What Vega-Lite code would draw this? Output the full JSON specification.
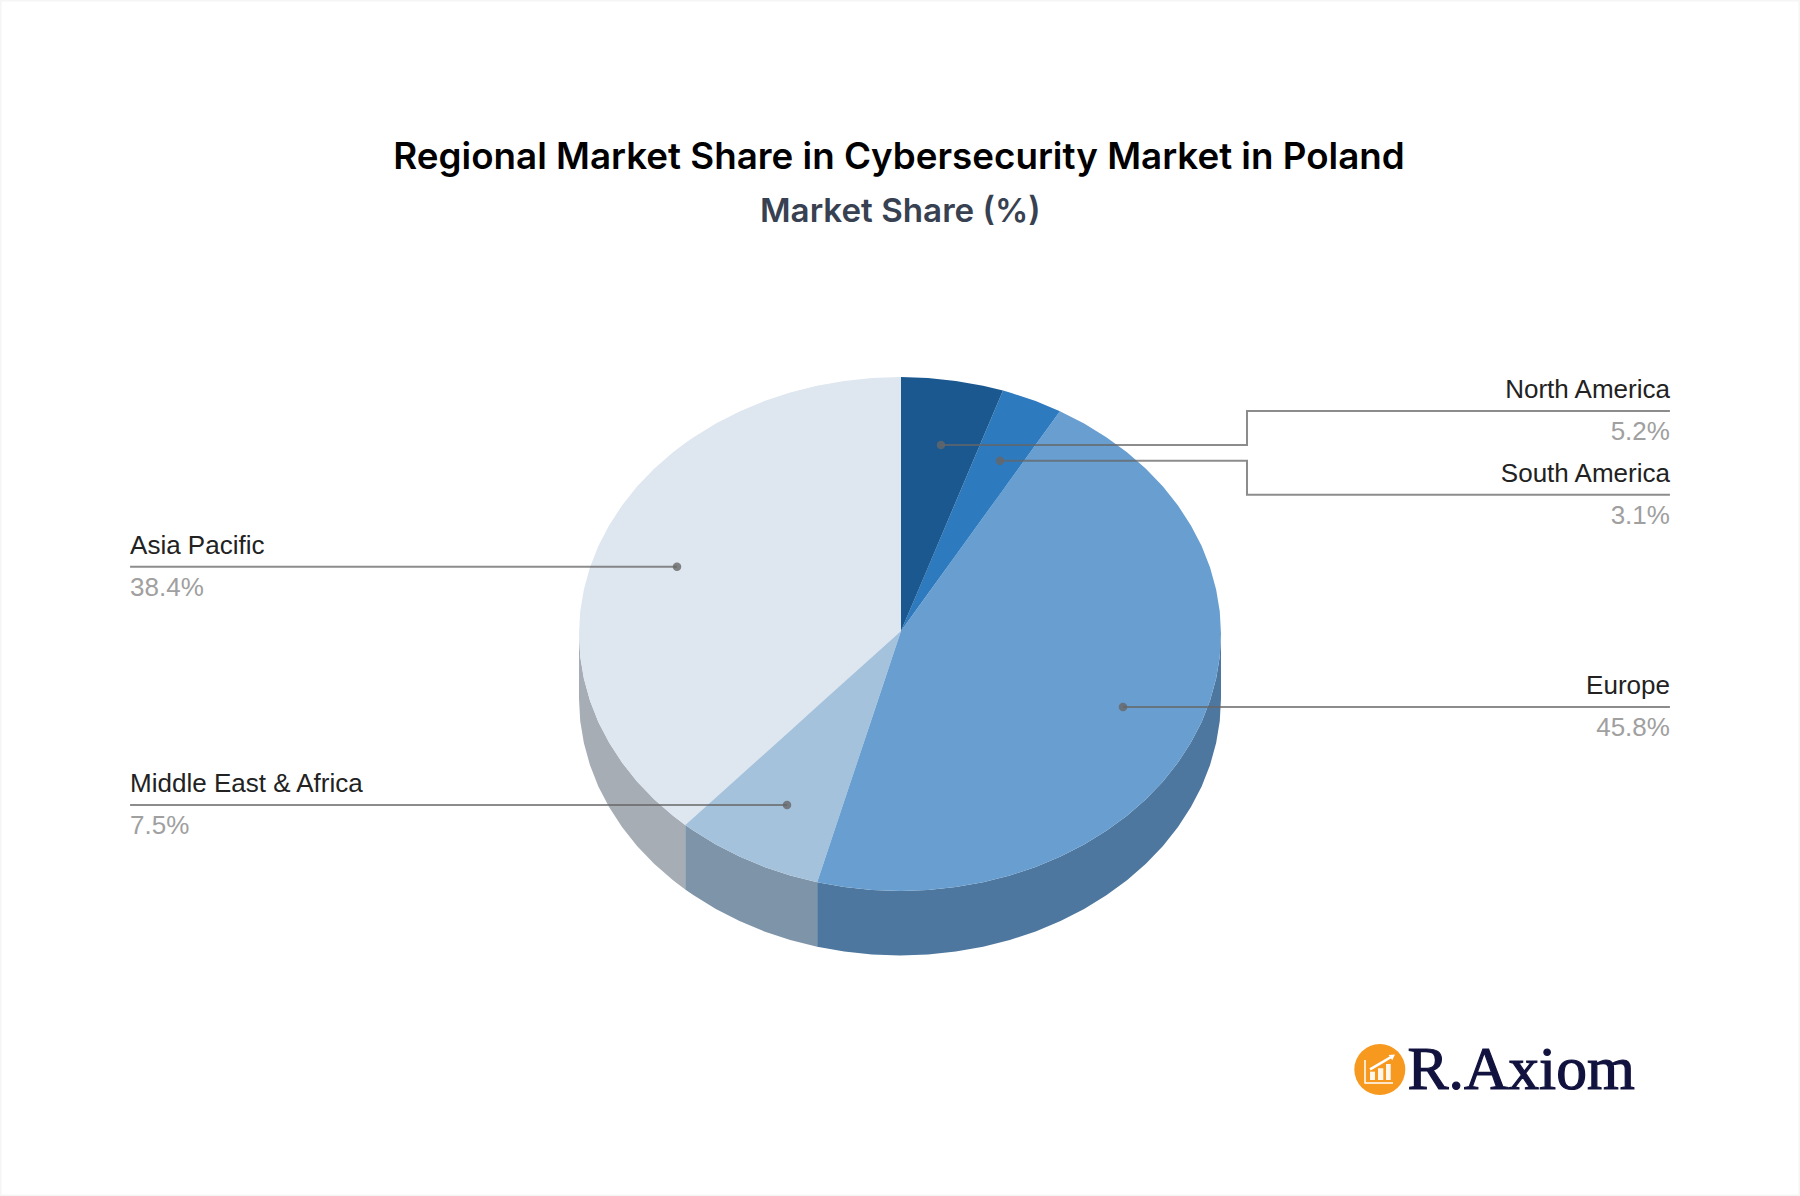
{
  "$schema": "https://vega.github.io/schema/vega-lite/v6.json",
  "width": 1800,
  "height": 1196,
  "padding": 0,
  "autosize": {"type": "fit", "contains": "padding"},
  "background": "white",
  "config": {"view": {"stroke": "#f5f5f5", "strokeWidth": 3}},
  "datasets": {
    "slices": [
      {"part": "Asia Pacific side", "x": -100, "y": 0, "y2": -25.1},
      {"part": "Asia Pacific side", "x": -99.62, "y": -8.72, "y2": -33.82},
      {"part": "Asia Pacific side", "x": -98.48, "y": -17.36, "y2": -42.46},
      {"part": "Asia Pacific side", "x": -96.59, "y": -25.88, "y2": -50.98},
      {"part": "Asia Pacific side", "x": -93.97, "y": -34.2, "y2": -59.3},
      {"part": "Asia Pacific side", "x": -90.63, "y": -42.26, "y2": -67.36},
      {"part": "Asia Pacific side", "x": -86.6, "y": -50, "y2": -75.1},
      {"part": "Asia Pacific side", "x": -81.92, "y": -57.36, "y2": -82.46},
      {"part": "Asia Pacific side", "x": -76.6, "y": -64.28, "y2": -89.38},
      {"part": "Asia Pacific side", "x": -70.71, "y": -70.71, "y2": -95.81},
      {"part": "Asia Pacific side", "x": -66.9, "y": -74.33, "y2": -99.43},
      {"part": "Middle East & Africa side", "x": -66.9, "y": -74.33, "y2": -99.43},
      {"part": "Middle East & Africa side", "x": -64.28, "y": -76.6, "y2": -101.7},
      {"part": "Middle East & Africa side", "x": -57.36, "y": -81.92, "y2": -107.02},
      {"part": "Middle East & Africa side", "x": -50, "y": -86.6, "y2": -111.7},
      {"part": "Middle East & Africa side", "x": -42.26, "y": -90.63, "y2": -115.73},
      {"part": "Middle East & Africa side", "x": -34.2, "y": -93.97, "y2": -119.07},
      {"part": "Middle East & Africa side", "x": -25.8, "y": -96.61, "y2": -121.71},
      {"part": "Europe side", "x": -25.8, "y": -96.61, "y2": -121.71},
      {"part": "Europe side", "x": -17.36, "y": -98.48, "y2": -123.58},
      {"part": "Europe side", "x": -8.72, "y": -99.62, "y2": -124.72},
      {"part": "Europe side", "x": 0, "y": -100, "y2": -125.1},
      {"part": "Europe side", "x": 8.72, "y": -99.62, "y2": -124.72},
      {"part": "Europe side", "x": 17.36, "y": -98.48, "y2": -123.58},
      {"part": "Europe side", "x": 25.88, "y": -96.59, "y2": -121.69},
      {"part": "Europe side", "x": 34.2, "y": -93.97, "y2": -119.07},
      {"part": "Europe side", "x": 42.26, "y": -90.63, "y2": -115.73},
      {"part": "Europe side", "x": 50, "y": -86.6, "y2": -111.7},
      {"part": "Europe side", "x": 57.36, "y": -81.92, "y2": -107.02},
      {"part": "Europe side", "x": 64.28, "y": -76.6, "y2": -101.7},
      {"part": "Europe side", "x": 70.71, "y": -70.71, "y2": -95.81},
      {"part": "Europe side", "x": 76.6, "y": -64.28, "y2": -89.38},
      {"part": "Europe side", "x": 81.92, "y": -57.36, "y2": -82.46},
      {"part": "Europe side", "x": 86.6, "y": -50, "y2": -75.1},
      {"part": "Europe side", "x": 90.63, "y": -42.26, "y2": -67.36},
      {"part": "Europe side", "x": 93.97, "y": -34.2, "y2": -59.3},
      {"part": "Europe side", "x": 96.59, "y": -25.88, "y2": -50.98},
      {"part": "Europe side", "x": 98.48, "y": -17.36, "y2": -42.46},
      {"part": "Europe side", "x": 99.62, "y": -8.72, "y2": -33.82},
      {"part": "Europe side", "x": 100, "y": 0, "y2": -25.1},
      {"part": "Asia Pacific", "x": -100, "y": 0, "y2": 0},
      {"part": "Asia Pacific", "x": -99.62, "y": 8.72, "y2": -8.72},
      {"part": "Asia Pacific", "x": -98.48, "y": 17.36, "y2": -17.36},
      {"part": "Asia Pacific", "x": -96.59, "y": 25.88, "y2": -25.88},
      {"part": "Asia Pacific", "x": -93.97, "y": 34.2, "y2": -34.2},
      {"part": "Asia Pacific", "x": -90.63, "y": 42.26, "y2": -42.26},
      {"part": "Asia Pacific", "x": -86.6, "y": 50, "y2": -50},
      {"part": "Asia Pacific", "x": -81.92, "y": 57.36, "y2": -57.36},
      {"part": "Asia Pacific", "x": -76.6, "y": 64.28, "y2": -64.28},
      {"part": "Asia Pacific", "x": -70.71, "y": 70.71, "y2": -70.71},
      {"part": "Asia Pacific", "x": -66.9, "y": 74.33, "y2": -74.33},
      {"part": "Asia Pacific", "x": -64.28, "y": 76.6, "y2": -71.39},
      {"part": "Asia Pacific", "x": -57.36, "y": 81.92, "y2": -63.61},
      {"part": "Asia Pacific", "x": -50, "y": 86.6, "y2": -55.34},
      {"part": "Asia Pacific", "x": -42.26, "y": 90.63, "y2": -46.65},
      {"part": "Asia Pacific", "x": -34.2, "y": 93.97, "y2": -37.6},
      {"part": "Asia Pacific", "x": -25.88, "y": 96.59, "y2": -28.25},
      {"part": "Asia Pacific", "x": -17.36, "y": 98.48, "y2": -18.68},
      {"part": "Asia Pacific", "x": -8.72, "y": 99.62, "y2": -8.97},
      {"part": "Asia Pacific", "x": 0.31, "y": 100, "y2": 1.17},
      {"part": "Middle East & Africa", "x": -66.9, "y": -74.33, "y2": -74.33},
      {"part": "Middle East & Africa", "x": -64.28, "y": -71.39, "y2": -76.6},
      {"part": "Middle East & Africa", "x": -57.36, "y": -63.61, "y2": -81.92},
      {"part": "Middle East & Africa", "x": -50, "y": -55.34, "y2": -86.6},
      {"part": "Middle East & Africa", "x": -42.26, "y": -46.65, "y2": -90.63},
      {"part": "Middle East & Africa", "x": -34.2, "y": -37.6, "y2": -93.97},
      {"part": "Middle East & Africa", "x": -25.8, "y": -28.16, "y2": -96.61},
      {"part": "Middle East & Africa", "x": 0.31, "y": 1.17, "y2": 1.17},
      {"part": "Europe", "x": -25.8, "y": -96.61, "y2": -96.61},
      {"part": "Europe", "x": -17.36, "y": -65, "y2": -98.48},
      {"part": "Europe", "x": -8.72, "y": -32.65, "y2": -99.62},
      {"part": "Europe", "x": 0.31, "y": 1.17, "y2": -100},
      {"part": "Europe", "x": 8.72, "y": 15.7, "y2": -99.62},
      {"part": "Europe", "x": 17.36, "y": 30.62, "y2": -98.48},
      {"part": "Europe", "x": 25.88, "y": 45.34, "y2": -96.59},
      {"part": "Europe", "x": 34.2, "y": 59.71, "y2": -93.97},
      {"part": "Europe", "x": 42.26, "y": 73.64, "y2": -90.63},
      {"part": "Europe", "x": 49.82, "y": 86.7, "y2": -86.7},
      {"part": "Europe", "x": 57.36, "y": 81.92, "y2": -81.92},
      {"part": "Europe", "x": 64.28, "y": 76.6, "y2": -76.6},
      {"part": "Europe", "x": 70.71, "y": 70.71, "y2": -70.71},
      {"part": "Europe", "x": 76.6, "y": 64.28, "y2": -64.28},
      {"part": "Europe", "x": 81.92, "y": 57.36, "y2": -57.36},
      {"part": "Europe", "x": 86.6, "y": 50, "y2": -50},
      {"part": "Europe", "x": 90.63, "y": 42.26, "y2": -42.26},
      {"part": "Europe", "x": 93.97, "y": 34.2, "y2": -34.2},
      {"part": "Europe", "x": 96.59, "y": 25.88, "y2": -25.88},
      {"part": "Europe", "x": 98.48, "y": 17.36, "y2": -17.36},
      {"part": "Europe", "x": 99.62, "y": 8.72, "y2": -8.72},
      {"part": "Europe", "x": 100, "y": 0, "y2": 0},
      {"part": "South America", "x": 0.31, "y": 1.17, "y2": 1.17},
      {"part": "South America", "x": 32.09, "y": 94.71, "y2": 56.07},
      {"part": "South America", "x": 34.2, "y": 93.97, "y2": 59.71},
      {"part": "South America", "x": 42.26, "y": 90.63, "y2": 73.64},
      {"part": "South America", "x": 49.82, "y": 86.7, "y2": 86.7},
      {"part": "North America", "x": 0.31, "y": 100, "y2": 1.17},
      {"part": "North America", "x": 8.72, "y": 99.62, "y2": 25.92},
      {"part": "North America", "x": 17.36, "y": 98.48, "y2": 51.35},
      {"part": "North America", "x": 25.88, "y": 96.59, "y2": 76.43},
      {"part": "North America", "x": 32.09, "y": 94.71, "y2": 94.71}
    ],
    "leaders": [
      {"region": "North America", "seq": 0, "x": 12.77, "y": 73.54},
      {"region": "North America", "seq": 1, "x": 108.1, "y": 73.54},
      {"region": "North America", "seq": 2, "x": 108.1, "y": 86.77},
      {"region": "North America", "seq": 3, "x": 239.85, "y": 86.77},
      {"region": "South America", "seq": 0, "x": 31.15, "y": 67.43},
      {"region": "South America", "seq": 1, "x": 108.1, "y": 67.43},
      {"region": "South America", "seq": 2, "x": 108.1, "y": 54.2},
      {"region": "South America", "seq": 3, "x": 239.85, "y": 54.2},
      {"region": "Europe", "seq": 0, "x": 69.47, "y": -28.4},
      {"region": "Europe", "seq": 1, "x": 239.85, "y": -28.4},
      {"region": "Asia Pacific", "seq": 0, "x": -69.47, "y": 26.19},
      {"region": "Asia Pacific", "seq": 1, "x": -239.85, "y": 26.19},
      {"region": "Middle East & Africa", "seq": 0, "x": -35.2, "y": -66.54},
      {"region": "Middle East & Africa", "seq": 1, "x": -239.85, "y": -66.54}
    ],
    "labels": [
      {"region": "North America", "share": 0.052, "side": "right", "x": 239.85, "yName": 91.95, "yShare": 75.49},
      {"region": "South America", "share": 0.031, "side": "right", "x": 239.85, "yName": 59.26, "yShare": 42.8},
      {"region": "Europe", "share": 0.458, "side": "right", "x": 239.85, "yName": -23.4, "yShare": -39.69},
      {"region": "Asia Pacific", "share": 0.384, "side": "left", "x": -239.85, "yName": 31.25, "yShare": 14.79},
      {"region": "Middle East & Africa", "share": 0.075, "side": "left", "x": -239.85, "yName": -61.36, "yShare": -77.82}
    ]
  },
  "encoding": {
    "x": {"field": "x", "type": "quantitative", "axis": null, "scale": {"domain": [-280.37, 280.37], "nice": false, "zero": false}},
    "y": {"field": "y", "type": "quantitative", "axis": null, "scale": {"domain": [-218.68, 246.69], "nice": false, "zero": false}}
  },
  "layer": [
    {
      "data": {"name": "slices"},
      "mark": {"type": "area", "interpolate": "linear"},
      "encoding": {
        "y2": {"field": "y2"},
        "color": {
          "field": "part",
          "type": "nominal",
          "sort": null,
          "legend": null,
          "scale": {
            "domain": ["Asia Pacific side", "Middle East & Africa side", "Europe side", "Asia Pacific", "Middle East & Africa", "Europe", "South America", "North America"],
            "range": ["#a6adb4", "#7e94a8", "#4d779e", "#dee6ef", "#a5c2dc", "#689ed0", "#2e7abf", "#1a588f"]
          }
        }
      }
    },
    {
      "data": {"name": "leaders"},
      "mark": {"type": "line", "color": "#666666", "strokeWidth": 2, "opacity": 0.75},
      "encoding": {
        "detail": {"field": "region"},
        "order": {"field": "seq"}
      }
    },
    {
      "data": {"name": "leaders"},
      "transform": [{"filter": "datum.seq == 0"}],
      "mark": {"type": "point", "shape": "circle", "filled": true, "size": 72, "color": "#666666", "opacity": 0.8}
    },
    {
      "data": {"name": "labels"},
      "transform": [{"filter": "datum.side == 'right'"}],
      "mark": {"type": "text", "align": "right", "baseline": "alphabetic", "font": "Liberation Sans", "fontSize": 26, "color": "#222222"},
      "encoding": {"y": {"field": "yName", "type": "quantitative"}, "text": {"field": "region"}}
    },
    {
      "data": {"name": "labels"},
      "transform": [{"filter": "datum.side == 'right'"}],
      "mark": {"type": "text", "align": "right", "baseline": "alphabetic", "font": "Liberation Sans", "fontSize": 26, "color": "#a0a0a0"},
      "encoding": {"y": {"field": "yShare", "type": "quantitative"}, "text": {"field": "share", "format": ".1%"}}
    },
    {
      "data": {"name": "labels"},
      "transform": [{"filter": "datum.side == 'left'"}],
      "mark": {"type": "text", "align": "left", "baseline": "alphabetic", "font": "Liberation Sans", "fontSize": 26, "color": "#222222"},
      "encoding": {"y": {"field": "yName", "type": "quantitative"}, "text": {"field": "region"}}
    },
    {
      "data": {"name": "labels"},
      "transform": [{"filter": "datum.side == 'left'"}],
      "mark": {"type": "text", "align": "left", "baseline": "alphabetic", "font": "Liberation Sans", "fontSize": 26, "color": "#a0a0a0"},
      "encoding": {"y": {"field": "yShare", "type": "quantitative"}, "text": {"field": "share", "format": ".1%"}}
    },
    {
      "data": {"values": [{"x": -0.31, "y": 180.82, "label": "Regional Market Share in Cybersecurity Market in Poland"}]},
      "mark": {"type": "text", "align": "center", "baseline": "alphabetic", "font": "Inter", "fontSize": 36.75, "fontWeight": 600, "color": "#000000"},
      "encoding": {"text": {"field": "label"}}
    },
    {
      "data": {"values": [{"x": 0.1, "y": 160.43, "label": "Market Share (%)"}]},
      "mark": {"type": "text", "align": "center", "baseline": "alphabetic", "font": "Inter", "fontSize": 33.2, "fontWeight": 600, "color": "#374151"},
      "encoding": {"text": {"field": "label"}}
    },
    {
      "data": {"values": [{"x": 149.47, "y": -169.46}]},
      "mark": {"type": "point", "shape": "circle", "filled": true, "size": 2601, "color": "#f7981f", "opacity": 1}
    },
    {
      "data": {"values": [
        {"seq": 0, "x": 144.86, "y": -165.76},
        {"seq": 1, "x": 144.86, "y": -174.71},
        {"seq": 2, "x": 153.58, "y": -174.71}
      ]},
      "mark": {"type": "line", "color": "white", "strokeWidth": 1.5},
      "encoding": {"order": {"field": "seq"}}
    },
    {
      "data": {"values": [
        {"x": 146.42, "x2": 147.98, "y": -170.31, "y2": -173.54},
        {"x": 148.91, "x2": 150.56, "y": -168.98, "y2": -173.54},
        {"x": 151.4, "x2": 152.87, "y": -167.32, "y2": -173.54}
      ]},
      "mark": {"type": "rect", "color": "white", "opacity": 0.92},
      "encoding": {"x2": {"field": "x2"}, "y2": {"field": "y2"}}
    },
    {
      "data": {"values": [
        {"seq": 0, "x": 146.42, "y": -169.38},
        {"seq": 1, "x": 150.56, "y": -166.42},
        {"seq": 2, "x": 153.1, "y": -164.5}
      ]},
      "mark": {"type": "line", "color": "white", "strokeWidth": 2.5},
      "encoding": {"order": {"field": "seq"}}
    },
    {
      "data": {"values": [{"x": 153.49, "y": -164.2}]},
      "mark": {"type": "point", "shape": "triangle-up", "filled": true, "size": 40, "angle": 55, "color": "white", "opacity": 1}
    },
    {
      "data": {"values": [{"x": 158.1, "y": -177.04, "label": "R.Axiom"}]},
      "mark": {"type": "text", "align": "left", "baseline": "alphabetic", "font": "Liberation Serif", "fontSize": 61.5, "color": "#12123f", "stroke": "#12123f", "strokeWidth": 1.2},
      "encoding": {"text": {"field": "label"}}
    }
  ]
}
